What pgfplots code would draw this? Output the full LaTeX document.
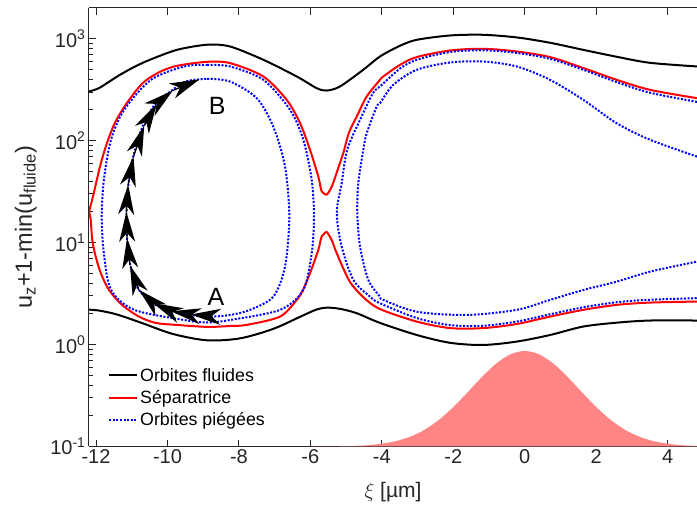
\documentclass[border=0pt]{standalone}
\usepackage{fontspec}
\setmainfont{Liberation Sans}
\usepackage{pgfplots}
\pgfplotsset{compat=1.18}
\usetikzlibrary{arrows.meta}
\definecolor{axgray}{rgb}{0.15,0.15,0.15}
\definecolor{fillred}{rgb}{1,0.52,0.52}
\tikzset{traj/.style={black, line width=1.3pt, -{Stealth[length=30pt,width=16pt,inset=9pt]}}}
\begin{document}
\begin{tikzpicture}
\begin{axis}[
  name=ax, at={(0,0)}, anchor=south west,
  scale only axis, width=608pt, height=438.5pt,
  ymode=log, xmin=-12.196, xmax=4.82, ymin=0.1, ymax=2000,
  axis x line*=box, axis y line*=left,
  axis line style={axgray, line width=1pt},
  xtick={-12,-10,-8,-6,-4,-2,0,2,4},
  xticklabels={-12,-10,-8,-6,-4,-2,0,2,4},
  ytick={0.1,1,10,100,1000},
  yticklabels={10\textsuperscript{-1},10\textsuperscript{0},10\textsuperscript{1},10\textsuperscript{2},10\textsuperscript{3}},
  minor ytick={0.2,0.3,0.4,0.5,0.6,0.7,0.8,0.9,2,3,4,5,6,7,8,9,20,30,40,50,60,70,80,90,200,300,400,500,600,700,800,900},
  tick align=inside,
  major tick length=7pt, minor tick length=4pt,
  tick style={axgray, line width=0.9pt},
  tick label style={font=\fontsize{20}{24}\selectfont, text=axgray},
  xlabel={$\xi$ [µm]},
  xlabel style={at={(axis description cs:0.5,-0.1152)}, anchor=base, font=\fontsize{21}{25}\selectfont, text=axgray},
  ylabel={u\textsubscript{z}+1-min(u\textsubscript{fluide})},
  ylabel style={at={(axis description cs:-0.094,0.5)}, anchor=base, font=\fontsize{23.5}{28}\selectfont, text=axgray},
  legend style={draw=none, fill=none, at={(axis description cs:0.03125,0.1836)}, anchor=north west,
    font=\fontsize{17.8}{21}\selectfont, row sep=3.8pt, inner sep=0pt, nodes={inner sep=2pt}},
  legend cell align=left,
  legend image code/.code={\draw[#1] (0pt,0pt) -- (28pt,0pt);},
]
% Gaussian profile
\addplot[draw=none, fill=fillred, smooth, forget plot] coordinates {
(-6,0.1) (-6,0.10007) (-5.6,0.10021) (-5.2,0.10054) (-4.8,0.1013) (-4.4,0.1030) (-4.0,0.1065)
(-3.6,0.1130) (-3.2,0.1251) (-2.8,0.1463) (-2.4,0.1827) (-2.0,0.2435) (-1.6,0.340) (-1.2,0.480)
(-0.8,0.650) (-0.4,0.802) (0,0.865) (0.4,0.802) (0.8,0.650) (1.2,0.480) (1.6,0.340) (2.0,0.2435)
(2.4,0.1827) (2.8,0.1463) (3.2,0.1251) (3.6,0.1130) (4.0,0.1065) (4.4,0.1030) (4.8,0.1013)
(5.2,0.10054) (5.6,0.10021) (6,0.10007) (6,0.1)};
% Fluid orbits
\addplot[black, line width=2pt, smooth] coordinates {
(-12.196,303) (-11.92,327) (-11.6,385) (-11.33,442) (-10.9,535) (-10.49,621) (-9.73,778) (-8.89,872)
(-8.25,838) (-7.318,621) (-6.383,426) (-5.823,327) (-5.543,310) (-5.171,340) (-4.519,496) (-4.052,669)
(-3.5,850) (-3.02,975) (-2.09,1075) (-1.17,1092) (-0.217,1028) (0.706,912) (1.63,778) (2.58,664)
(3.50,580) (4.82,534)};
\addlegendentry{Orbites fluides}
\addplot[black, line width=2pt, smooth, forget plot] coordinates {
(-12.196,2.2) (-11.9,2.15) (-11.41,1.97) (-10.68,1.61) (-9.85,1.27) (-8.89,1.10) (-7.97,1.15)
(-7.05,1.42) (-6.29,1.87) (-5.85,2.19) (-5.543,2.30) (-5.171,2.24) (-4.704,2.03) (-4.052,1.63)
(-3.02,1.24) (-2.09,1.04) (-1.17,0.99) (-0.217,1.07) (0.706,1.24) (1.63,1.50) (2.58,1.64)
(3.50,1.72) (4.82,1.72)};
% Separatrix
\addplot[red, line width=2pt, smooth] coordinates {
(-12.196,20.1) (-12.084,28.3) (-11.888,55.7) (-11.692,95) (-11.468,150) (-11.132,235) (-10.685,369)
(-10.209,473) (-9.733,542) (-8.893,593) (-8.250,576) (-7.318,426) (-6.663,251) (-6.290,149)
(-6.011,81.3) (-5.778,44.4) (-5.683,31.7) (-5.543,29.4)};
\addlegendentry{Séparatrice}
\addplot[red, line width=2pt, smooth, forget plot] coordinates {
(-5.543,29.4) (-5.40,35.5) (-5.171,60.5) (-5.079,75.4) (-4.92,120) (-4.704,172) (-4.424,271)
(-4.052,395) (-3.959,426) (-3.49,554) (-3.025,660) (-2.09,766) (-1.16,796) (-0.226,749)
(0.706,660) (1.64,515) (2.573,395) (3.505,315) (4.82,261)};
\addplot[red, line width=2pt, smooth, forget plot] coordinates {
(-12.196,20.1) (-12.148,16.7) (-12.104,10.6) (-12.008,7.29) (-11.868,5.04) (-11.636,3.43)
(-11.272,2.45) (-10.797,1.88) (-10.329,1.63) (-9.769,1.56) (-8.89,1.49) (-8.25,1.52) (-7.782,1.56)
(-6.850,1.88) (-6.383,2.74) (-6.207,3.43) (-6.011,5.01) (-5.778,8.48) (-5.683,11.5) (-5.543,12.8)};
\addplot[red, line width=2pt, smooth, forget plot] coordinates {
(-5.543,12.8) (-5.403,10.6) (-5.263,7.87) (-4.89,4.1) (-4.424,2.72) (-4.0,2.19) (-3.025,1.68)
(-2.09,1.45) (-1.16,1.45) (-0.226,1.59) (0.706,1.88) (1.64,2.19) (2.573,2.45) (3.505,2.58) (4.82,2.64)};
% Trapped orbits
\addplot[blue, line width=2pt, dash pattern=on 2pt off 1.6pt, smooth] coordinates {
(-8.89,554) (-8.25,534) (-7.318,395) (-6.570,201) (-6.198,102) (-5.963,41.2) (-5.899,18.0)
(-5.963,7.87) (-6.198,3.44) (-6.850,2.19) (-8.25,1.74) (-8.89,1.65) (-9.53,1.74) (-10.93,2.19)
(-11.58,3.44) (-11.78,7.87) (-11.84,18.0) (-11.78,41.2) (-11.58,102) (-11.21,201) (-10.46,395)
(-9.53,534) (-8.89,554)};
\addlegendentry{Orbites piégées}
\addplot[blue, line width=2pt, dash pattern=on 2pt off 1.6pt, smooth, forget plot] coordinates {
(-8.89,404) (-8.25,380) (-7.502,261) (-7.038,137) (-6.710,55.7) (-6.590,18.0) (-6.710,5.82)
(-7.038,2.95) (-7.690,2.19) (-8.25,1.95) (-8.89,1.88) (-9.68,2.03) (-10.33,2.45) (-10.8,3.44)
(-11.02,5.6) (-11.12,10) (-11.15,18) (-11.10,35) (-10.98,65) (-10.70,137) (-10.33,233)
(-9.96,296) (-9.49,380) (-8.89,404)};
\addplot[blue, line width=2pt, dash pattern=on 2pt off 1.6pt, smooth, forget plot] coordinates {
(4.82,240) (3.505,295) (2.573,375) (1.64,495) (0.706,635) (-0.226,725) (-1.16,770) (-2.09,740)
(-3.025,620) (-3.49,510) (-4.05,340) (-4.25,292) (-4.61,160) (-4.97,81.3) (-5.124,38.3)
(-5.263,19.4) (-5.124,9.14) (-4.799,4.31) (-4.331,2.95) (-4.052,2.54) (-3.025,1.82) (-2.09,1.55)
(-1.16,1.53) (-0.226,1.68) (0.706,1.98) (1.64,2.32) (2.573,2.6) (3.505,2.75) (4.82,2.85)};
\addplot[blue, line width=2pt, dash pattern=on 2pt off 1.6pt, smooth, forget plot] coordinates {
(4.82,69.8) (3.505,102) (2.573,148) (1.64,251) (0.706,395) (-0.226,534) (-1.16,597) (-2.09,584)
(-3.025,495) (-3.68,353) (-4.052,233) (-4.144,216) (-4.424,118) (-4.519,81.3) (-4.659,38.3)
(-4.687,19.4) (-4.611,9.14) (-4.379,4.31) (-4.052,2.95) (-3.959,2.74) (-3.025,2.10) (-1.62,1.95)
(-0.226,2.19) (0.706,2.74) (1.64,3.43) (2.573,4.14) (3.505,5.19) (4.82,6.51)};
% Trajectory A -> B (arrows)
\addplot[traj, forget plot] coordinates {(-8.84,1.91) (-9.35,1.97)};
\addplot[traj, forget plot] coordinates {(-9.35,1.97) (-9.9,2.12)};
\addplot[traj, forget plot] coordinates {(-9.9,2.12) (-10.4,2.55)};
\addplot[traj, forget plot] coordinates {(-10.4,2.55) (-10.8,3.44)};
\addplot[traj, forget plot] coordinates {(-10.8,3.44) (-11.05,6.0)};
\addplot[traj, forget plot] coordinates {(-11.05,6.0) (-11.13,11)};
\addplot[traj, forget plot] coordinates {(-11.13,11) (-11.15,20)};
\addplot[traj, forget plot] coordinates {(-11.15,20) (-11.10,37)};
\addplot[traj, forget plot] coordinates {(-11.10,37) (-10.95,70)};
\addplot[traj, forget plot] coordinates {(-10.95,70) (-10.65,140)};
\addplot[traj, forget plot] coordinates {(-10.65,140) (-10.3,230)};
\addplot[traj, forget plot] coordinates {(-10.3,230) (-9.85,310)};
\addplot[traj, forget plot] coordinates {(-9.85,310) (-9.1,400)};
\node[font=\fontsize{25}{30}\selectfont] at (axis cs:-8.61,219) {B};
\node[font=\fontsize{25}{30}\selectfont] at (axis cs:-8.64,2.93) {A};
\end{axis}
\pgfresetboundingbox
\path[use as bounding box] (-89pt,-61.5pt) rectangle (608pt,446.5pt);
\end{tikzpicture}
\end{document}
